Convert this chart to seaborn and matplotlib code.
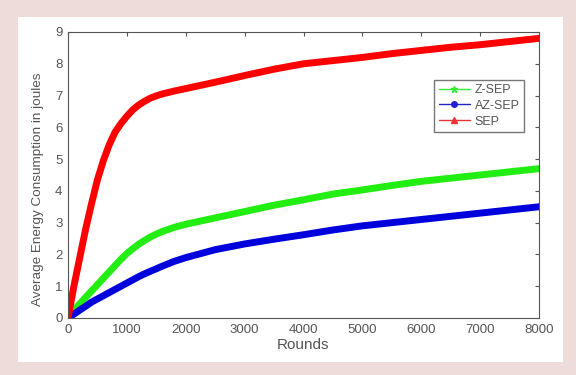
import matplotlib
matplotlib.use('Agg')
from matplotlib import pyplot as plt
from matplotlib.lines import Line2D
from matplotlib.patches import Rectangle
import pandas as pd
import seaborn as sns

rounds = [0, 100, 200, 300, 400, 500, 600, 700, 800, 900, 1000, 1100, 1200, 1300, 1400, 1500, 1600,
          1800, 2000, 2500, 3000, 3500, 4000, 4500, 5000, 5500, 6000, 6500, 7000, 7500, 8000]
sep = [0, 1.0, 1.9, 2.8, 3.6, 4.35, 4.95, 5.45, 5.85, 6.12, 6.35, 6.55, 6.7, 6.82, 6.92, 6.99, 7.05,
       7.14, 7.22, 7.42, 7.63, 7.83, 8.0, 8.1, 8.2, 8.32, 8.42, 8.52, 8.6, 8.7, 8.8]
zsep = [0, 0.25, 0.45, 0.65, 0.85, 1.05, 1.25, 1.45, 1.65, 1.85, 2.03, 2.18, 2.32, 2.44, 2.55, 2.64, 2.72,
        2.85, 2.95, 3.15, 3.35, 3.55, 3.72, 3.9, 4.03, 4.17, 4.3, 4.4, 4.5, 4.6, 4.7]
azsep = [0, 0.12, 0.25, 0.37, 0.5, 0.6, 0.7, 0.8, 0.9, 1.0, 1.1, 1.2, 1.3, 1.39, 1.47, 1.55, 1.63,
         1.78, 1.9, 2.15, 2.33, 2.48, 2.62, 2.77, 2.9, 3.0, 3.1, 3.2, 3.3, 3.4, 3.5]

df = pd.DataFrame({'Rounds': rounds * 3,
                   'Energy': sep + zsep + azsep,
                   'Protocol': ['SEP'] * len(rounds) + ['Z-SEP'] * len(rounds) + ['AZ-SEP'] * len(rounds)})

sns.set_style('white')
plt.rcParams['font.family'] = ['Liberation Sans', 'DejaVu Sans']

fig = plt.figure(figsize=(5.76, 3.75), dpi=100)
fig.patch.set_facecolor('#eedcda')
fig.patches.append(Rectangle((18 / 576, 13 / 375), 545 / 576, 345 / 375,
                             transform=fig.transFigure, facecolor='white', edgecolor='none', zorder=-5))
ax = fig.add_axes([68 / 576, 57 / 375, 471 / 576, 286 / 375])
ax.set_zorder(1)

palette = {'SEP': '#ff0000', 'Z-SEP': '#22ee11', 'AZ-SEP': '#0000dd'}
sns.lineplot(data=df, x='Rounds', y='Energy', hue='Protocol', palette=palette,
             hue_order=['Z-SEP', 'AZ-SEP', 'SEP'], linewidth=5, legend=False, ax=ax)

ax.set_xlim(0, 8000)
ax.set_ylim(0, 9)
ax.set_xticks(range(0, 8001, 1000))
ax.set_yticks(range(0, 10))
ax.tick_params(direction='in', length=3, colors='#555555', labelsize=9.5, top=True, right=True,
               pad=4)
for s in ax.spines.values():
    s.set_color('#555555')
    s.set_linewidth(0.8)
ax.set_xlabel('Rounds', fontsize=11, color='#555555', labelpad=2)
ax.set_ylabel('Average Energy Consumption in joules', fontsize=9.7, color='#555555')
ax.yaxis.set_label_coords(-0.05, 0.45)

handles = [Line2D([], [], color='#33ee33', marker='*', markersize=5, lw=1),
           Line2D([], [], color='#2222cc', marker='o', markersize=4, lw=1),
           Line2D([], [], color='#ee3333', marker='^', markersize=4, lw=1)]
leg = ax.legend(handles, ['Z-SEP', 'AZ-SEP', 'SEP'], loc='upper right', bbox_to_anchor=(0.982, 0.855),
                fontsize=9, frameon=True, fancybox=False, edgecolor='#555555', handlelength=2.5,
                borderpad=0.35, labelspacing=0.3, handletextpad=0.4)
for t in leg.get_texts():
    t.set_color('#555555')

fig.savefig('out.png', dpi=100, facecolor=fig.get_facecolor())
